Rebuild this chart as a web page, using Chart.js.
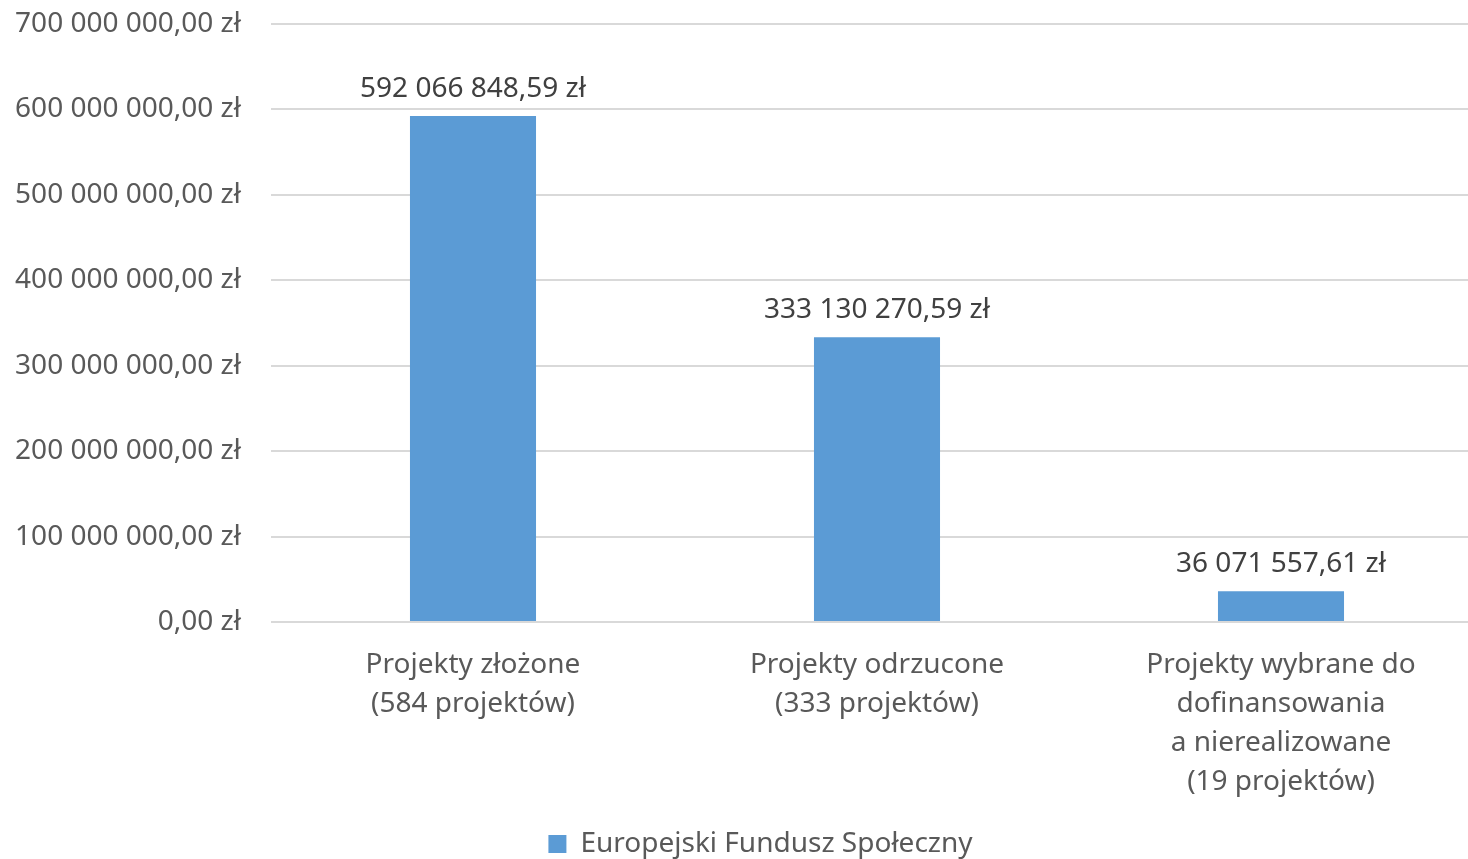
<!DOCTYPE html>
<html>
<head>
<meta charset="utf-8">
<script src="https://cdn.jsdelivr.net/npm/chart.js@4/dist/chart.umd.min.js"></script>
<style>
html,body{margin:0;padding:0;overflow:hidden;background:#fff;}
#wrap{position:absolute;left:0;top:-23px;width:1520px;height:891px;}
</style>
</head>
<body>
<div id="wrap"><canvas id="c"></canvas></div>
<script>
const categories = [
  ["Projekty złożone", "(584 projektów)"],
  ["Projekty odrzucone", "(333 projektów)"],
  ["Projekty wybrane do", "dofinansowania", "a nierealizowane", "(19 projektów)"]
];
const seriesName = "Europejski Fundusz Społeczny";
const values = [592066848.59, 333130270.59, 36071557.61];
const yMin = 0, yMax = 700000000, yStep = 100000000;

function formatPLN(v){
  const parts = Math.abs(v).toFixed(2).split(".");
  const intPart = parts[0].replace(/\B(?=(\d{3})+(?!\d))/g, " ");
  return intPart + "," + parts[1] + " zł";
}

const FONT = "'Noto Sans', sans-serif";
const FS = 28;

const dataLabels = {
  id: "dataLabels",
  afterDatasetsDraw(chart){
    const ctx = chart.ctx;
    const meta = chart.getDatasetMeta(0);
    ctx.save();
    ctx.font = FS + "px " + FONT;
    ctx.fillStyle = "#404040";
    ctx.textAlign = "center";
    ctx.textBaseline = "middle";
    meta.data.forEach((bar, i) => {
      ctx.fillText(formatPLN(values[i]), bar.x, bar.y - 27);
    });
    ctx.restore();
  }
};

const legendShift = {
  id: "legendShift",
  afterLayout(chart){
    if (chart.legend) {
      chart.legend.left += 19;
      chart.legend.right += 19;
    }
  }
};

new Chart(document.getElementById("c"), {
  type: "bar",
  data: {
    labels: categories,
    datasets: [{
      label: seriesName,
      data: values,
      backgroundColor: "#5B9BD5",
      borderWidth: 0,
      categoryPercentage: 1,
      barPercentage: 0.312
    }]
  },
  options: {
    responsive: true,
    maintainAspectRatio: false,
    animation: false,
    layout: { padding: { left: 0, right: 37, top: 1, bottom: 0 } },
    plugins: {
      tooltip: { enabled: false },
      legend: {
        position: "bottom",
        labels: {
          boxWidth: 18, boxHeight: 18,
          color: "#595959",
          font: { family: FONT, size: FS },
          padding: 7
        }
      }
    },
    scales: {
      x: {
        afterFit(scale){ scale.height -= 3; },
        grid: { display: false, drawTicks: false },
        border: { display: false },
        ticks: {
          color: "#595959",
          font: { family: FONT, size: FS, lineHeight: 39/FS },
          padding: 24,
          maxRotation: 0,
          autoSkip: false
        }
      },
      y: {
        min: yMin, max: yMax,
        afterFit(scale){ scale.width = 271; },
        grid: { color: "#D9D9D9", lineWidth: 2, drawTicks: false, tickLength: 0 },
        border: { display: false },
        ticks: {
          stepSize: yStep,
          color: "#595959",
          font: { family: FONT, size: FS },
          padding: 30,
          callback: (v) => formatPLN(v)
        }
      }
    }
  },
  plugins: [dataLabels, legendShift]
});
</script>
</body>
</html>
